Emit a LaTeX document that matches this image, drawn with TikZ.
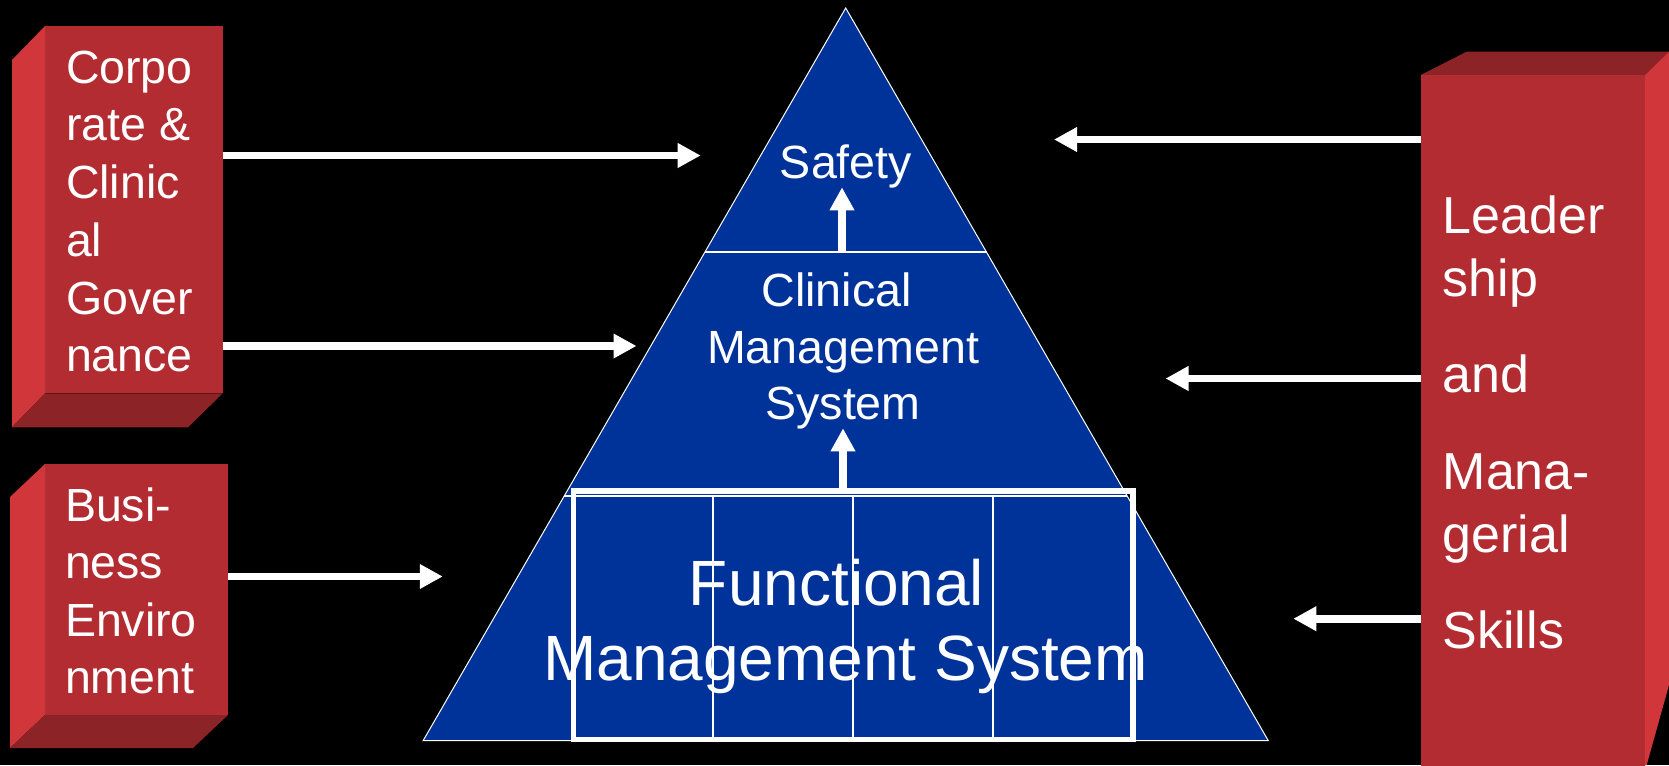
\documentclass[tikz,border=0pt]{standalone}
\usepackage{fontspec}
\setmainfont{Liberation Sans}
\usetikzlibrary{arrows.meta,calc}
\definecolor{boxfront}{RGB}{179,44,50}
\definecolor{boxside}{RGB}{208,54,58}
\definecolor{boxdark}{RGB}{140,35,38}
\definecolor{pyrblue}{RGB}{0,51,153}
\newcommand{\myfs}[2]{\fontsize{#1pt}{#2pt}\selectfont}
\begin{document}
\begin{tikzpicture}[x=1pt,y=-1pt,
  frontface/.style={fill=boxfront, draw=none, inner sep=0pt, outer sep=0pt, anchor=north west},
  boxtext/.style={text=white, align=left, inner sep=0pt, outer sep=0pt, anchor=base west},
  pyrtext/.style={text=white, align=center, inner sep=0pt, outer sep=0pt, anchor=base},
  arr/.style={draw=white, line width=7.6pt, -{Triangle[width=23.3pt,length=23pt]}},
  sep/.style={draw=white, line width=2pt}]
\fill[black] (0,0) rectangle (1669,765);
\useasboundingbox (0,0) rectangle (1669,765);

% ---- left box 1
\node[frontface, minimum width=177.7pt, minimum height=367.3pt] (corpbox) at (45,26) {};
\fill[boxside] (corpbox.north west) -- ++(-33,34) -- ++(0,367.3) -- (corpbox.south west) -- cycle;
\fill[boxdark] (corpbox.south west) -- ++(-33,34) -- ++(176,0) -- (corpbox.south east) -- cycle;
\node[boxtext, font=\myfs{46.5}{57.7}] (corptext) at (66,371.7) {Corpo\\rate \&\\Clinic\\al\\Gover\\nance};

% ---- left box 2
\node[frontface, minimum width=183pt, minimum height=251pt] (busbox) at (45,464) {};
\fill[boxside] (busbox.north west) -- ++(-35,33) -- ++(0,251) -- (busbox.south west) -- cycle;
\fill[boxdark] (busbox.south west) -- ++(-35,33) -- ++(183,0) -- (busbox.south east) -- cycle;
\node[boxtext, font=\myfs{46.5}{57.2}] (bustext) at (65,693.3) {Busi-\\ness\\Enviro\\nment};

% ---- right box
\node[frontface, minimum width=224.3pt, minimum height=700pt] (leadbox) at (1420.7,75) {};
\fill[boxdark] (leadbox.north west) -- (1466.7,51.7) -- (1669,51.7) -- (leadbox.north east) -- cycle;
\fill[boxside] (leadbox.north east) -- (1669,51.7) -- (1669,685) -- (1646.7,765) -- (1645,765) -- cycle;
\node[boxtext, font=\myfs{52}{63.5}] (leadtext) at (1442.7,648.8) {Leader\\ship\\[32.5pt]and\\[33pt]Mana-\\gerial\\[32.5pt]Skills};

% ---- pyramid
\coordinate (apex) at (845.7,8);
\coordinate (bl) at (423.1,740.7);
\coordinate (br) at (1268.3,740.7);
\filldraw[fill=pyrblue, draw=white, line width=1pt] (apex) -- (br) -- (bl) -- cycle;
\draw[sep] ($(apex)!1/3!(bl)$) -- ($(apex)!1/3!(br)$);
\draw[sep] ($(apex)!0.6667!(bl)$) -- ($(apex)!0.6667!(br)$);

% functional grid
\node[draw=white, line width=5.5pt, minimum width=559.5pt, minimum height=248.5pt, inner sep=0pt, outer sep=0pt, anchor=north west] (fms) at (573.5,491) {};
\foreach \gx in {713,853,993} {
  \draw[white, line width=2.5pt] (\gx,496) -- (\gx,737);
}

\node[pyrtext, font=\myfs{46.6}{56}] (safety) at (846,178.3) {Safety};
\node[pyrtext, font=\myfs{46.6}{56.3}] (cms) at (843,419.3) {Clinical\hspace*{0.278em}\\Management\\System};
\node[pyrtext, font=\myfs{64}{75.7}] (fmstext) at (845.5,680.7) {Functional\hspace*{0.278em}\\Management System};

% ---- vertical arrows
\coordinate (u1s) at (842,251.7);
\coordinate (u1e) at (842,187.3);
\coordinate (u2e) at (843,428.3);
\draw[arr] (u1s) -- (u1e);
\draw[arr] (fms.north -| u2e) -- (u2e);

% ---- horizontal arrows
\coordinate (a1e) at (700.7,155.5);
\coordinate (a2e) at (636.5,346);
\coordinate (a3e) at (442.8,576.5);
\coordinate (a4e) at (1054,139.5);
\coordinate (a5e) at (1165.5,378.5);
\coordinate (a6e) at (1293.3,618.7);
\draw[arr] (corpbox.east |- a1e) -- (a1e);
\draw[arr] (corpbox.east |- a2e) -- (a2e);
\draw[arr] (busbox.east |- a3e) -- (a3e);
\draw[arr] (leadbox.west |- a4e) -- (a4e);
\draw[arr] (leadbox.west |- a5e) -- (a5e);
\draw[arr] (leadbox.west |- a6e) -- (a6e);
\end{tikzpicture}
\end{document}
